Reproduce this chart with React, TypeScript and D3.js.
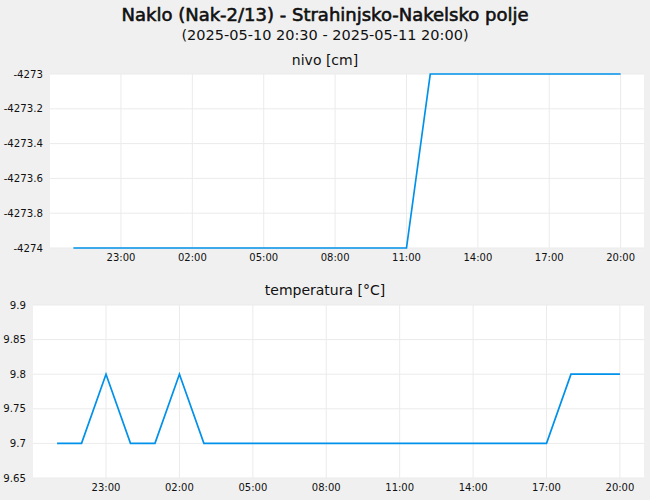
import React from 'react';
import * as d3 from 'd3';

const W = 650;
const H = 500;
const FONT = 'DejaVu Sans, Verdana, sans-serif';
const LINE = '#0091ea';
const GRID = '#ebebeb';

const title = 'Naklo (Nak-2/13) - Strahinjsko-Nakelsko polje';
const subtitle = '(2025-05-10 20:30 - 2025-05-11 20:00)';

// hourly readings from 2025-05-10 21:00 to 2025-05-11 20:00
const hours = [
  '2025-05-10 21:00', '2025-05-10 22:00', '2025-05-10 23:00', '2025-05-11 00:00',
  '2025-05-11 01:00', '2025-05-11 02:00', '2025-05-11 03:00', '2025-05-11 04:00',
  '2025-05-11 05:00', '2025-05-11 06:00', '2025-05-11 07:00', '2025-05-11 08:00',
  '2025-05-11 09:00', '2025-05-11 10:00', '2025-05-11 11:00', '2025-05-11 12:00',
  '2025-05-11 13:00', '2025-05-11 14:00', '2025-05-11 15:00', '2025-05-11 16:00',
  '2025-05-11 17:00', '2025-05-11 18:00', '2025-05-11 19:00', '2025-05-11 20:00',
];
const nivo = [
  -4274, -4274, -4274, -4274, -4274, -4274, -4274, -4274,
  -4274, -4274, -4274, -4274, -4274, -4274, -4274, -4273,
  -4273, -4273, -4273, -4273, -4273, -4273, -4273, -4273,
];
const temperatura = [
  9.7, 9.7, 9.8, 9.7, 9.7, 9.8, 9.7, 9.7,
  9.7, 9.7, 9.7, 9.7, 9.7, 9.7, 9.7, 9.7,
  9.7, 9.7, 9.7, 9.7, 9.7, 9.8, 9.8, 9.8,
];
const xTicks = [
  '2025-05-10 23:00', '2025-05-11 02:00', '2025-05-11 05:00', '2025-05-11 08:00',
  '2025-05-11 11:00', '2025-05-11 14:00', '2025-05-11 17:00', '2025-05-11 20:00',
];
const xDomain = ['2025-05-10 20:01', '2025-05-11 20:59'];
const nivoTicks = [-4274, -4273.8, -4273.6, -4273.4, -4273.2, -4273];
const tempTicks = [9.65, 9.7, 9.75, 9.8, 9.85, 9.9];

const parse = d3.timeParse('%Y-%m-%d %H:%M');
const fmtTime = d3.timeFormat('%H:%M');

interface PanelProps {
  label: string;
  labelY: number;
  left: number;
  top: number;
  bottom: number;
  values: number[];
  ticks: number[];
  yDomain: [number, number];
  fmt: (v: number) => string;
}

const Panel: React.FC<PanelProps> = ({ label, labelY, left, top, bottom, values, ticks, yDomain, fmt }) => {
  const right = 644;
  const x = d3.scaleTime()
    .domain(xDomain.map(d => parse(d) as Date))
    .range([left, right]);
  const y = d3.scaleLinear().domain(yDomain).range([bottom, top]);
  const pts = hours.map((h, i) => [x(parse(h) as Date), y(values[i])] as [number, number]);
  const line = d3.line().curve(d3.curveLinear)(pts) || '';

  return (
    <g>
      <text x={W / 2} y={labelY} textAnchor="middle" fontSize={14} fill="#111">{label}</text>
      <rect x={left} y={top} width={right - left} height={bottom - top} fill="#fff" />
      {ticks.map(t => (
        <g key={t}>
          <line x1={left} x2={right} y1={y(t)} y2={y(t)} stroke={GRID} strokeWidth={1} />
          <text x={left - 7} y={y(t)} dy="0.35em" textAnchor="end" fontSize={10.2} fill="#111">{fmt(t)}</text>
        </g>
      ))}
      {xTicks.map(s => {
        const d = parse(s) as Date;
        return (
          <g key={s}>
            <line x1={x(d)} x2={x(d)} y1={top} y2={bottom} stroke={GRID} strokeWidth={1} />
            <text x={x(d)} y={bottom + 13} textAnchor="middle" fontSize={10} fill="#111">{fmtTime(d)}</text>
          </g>
        );
      })}
      <path d={line} fill="none" stroke={LINE} strokeWidth={1.7} />
    </g>
  );
};

const App: React.FC = () => {
  return (
    <svg width={W} height={H} viewBox={`0 0 ${W} ${H}`}
      style={{ position: 'absolute', left: 0, top: 0, fontFamily: FONT, background: '#f0f0f0' }}>
      <rect width={W} height={H} fill="#f0f0f0" />
      <text x={W / 2} y={21} textAnchor="middle" fontSize={18} fill="#111"
        stroke="#111" strokeWidth={0.6}>{title}</text>
      <text x={W / 2} y={40} textAnchor="middle" fontSize={14.5} fill="#111">{subtitle}</text>
      <Panel label="nivo [cm]" labelY={65} left={50} top={74} bottom={248}
        values={nivo} ticks={nivoTicks} yDomain={[-4274, -4273]}
        fmt={v => String(+v.toFixed(1))} />
      <Panel label="temperatura [°C]" labelY={295} left={33} top={305} bottom={478}
        values={temperatura} ticks={tempTicks} yDomain={[9.65, 9.9]}
        fmt={v => String(+v.toFixed(2))} />
    </svg>
  );
};

export default App;
